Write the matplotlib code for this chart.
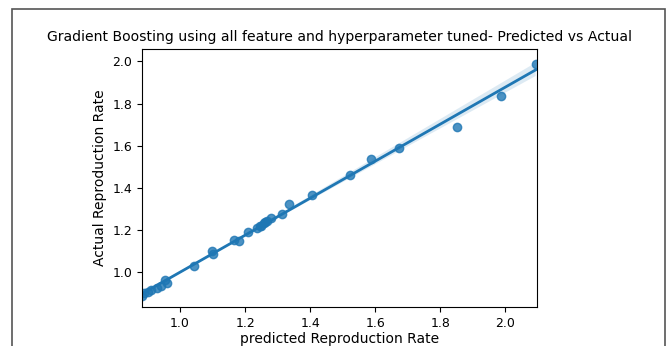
import numpy as np
import matplotlib.pyplot as plt
import seaborn as sns
from matplotlib.patches import Rectangle

# predicted vs actual reproduction rate
predicted = [0.883, 0.89, 0.90, 0.91, 0.93, 0.94, 0.955, 0.96,
             1.043, 1.097, 1.10, 1.166, 1.18, 1.21,
             1.237, 1.245, 1.249, 1.258, 1.262, 1.268, 1.28,
             1.314, 1.335, 1.406, 1.522, 1.587, 1.674, 1.852, 1.987, 2.094]
actual = [0.885, 0.90, 0.905, 0.915, 0.925, 0.935, 0.96, 0.948,
          1.028, 1.10, 1.085, 1.15, 1.145, 1.19,
          1.21, 1.22, 1.216, 1.23, 1.235, 1.244, 1.254,
          1.277, 1.324, 1.366, 1.46, 1.537, 1.587, 1.69, 1.837, 1.99]

fig = plt.figure(figsize=(6.68, 3.46), dpi=100)
ax = fig.add_axes([142/668, 1 - 307/346, 395/668, 258/346])

sns.regplot(x=np.array(predicted), y=np.array(actual), ax=ax, seed=0,
            scatter_kws={"s": 36}, line_kws={"lw": 2})

ax.set_xlim(0.883, 2.098)
ax.set_ylim(0.833, 2.059)
ax.set_xticks([1.0, 1.2, 1.4, 1.6, 1.8, 2.0])
ax.set_yticks([1.0, 1.2, 1.4, 1.6, 1.8, 2.0])
ax.tick_params(labelsize=9)
ax.set_xlabel("predicted Reproduction Rate", fontsize=10, labelpad=2)
ax.set_ylabel("Actual Reproduction Rate", fontsize=10)
ax.set_title("Gradient Boosting using all feature and hyperparameter tuned- Predicted vs Actual",
             fontsize=10.1)

# screenshot frame
fig.patches.append(Rectangle((12/668, -0.05), 653/668, 1.05 - 9/346,
                             transform=fig.transFigure, fill=False,
                             edgecolor="#555555", lw=1.2))

fig.savefig("out.png", dpi=100)
